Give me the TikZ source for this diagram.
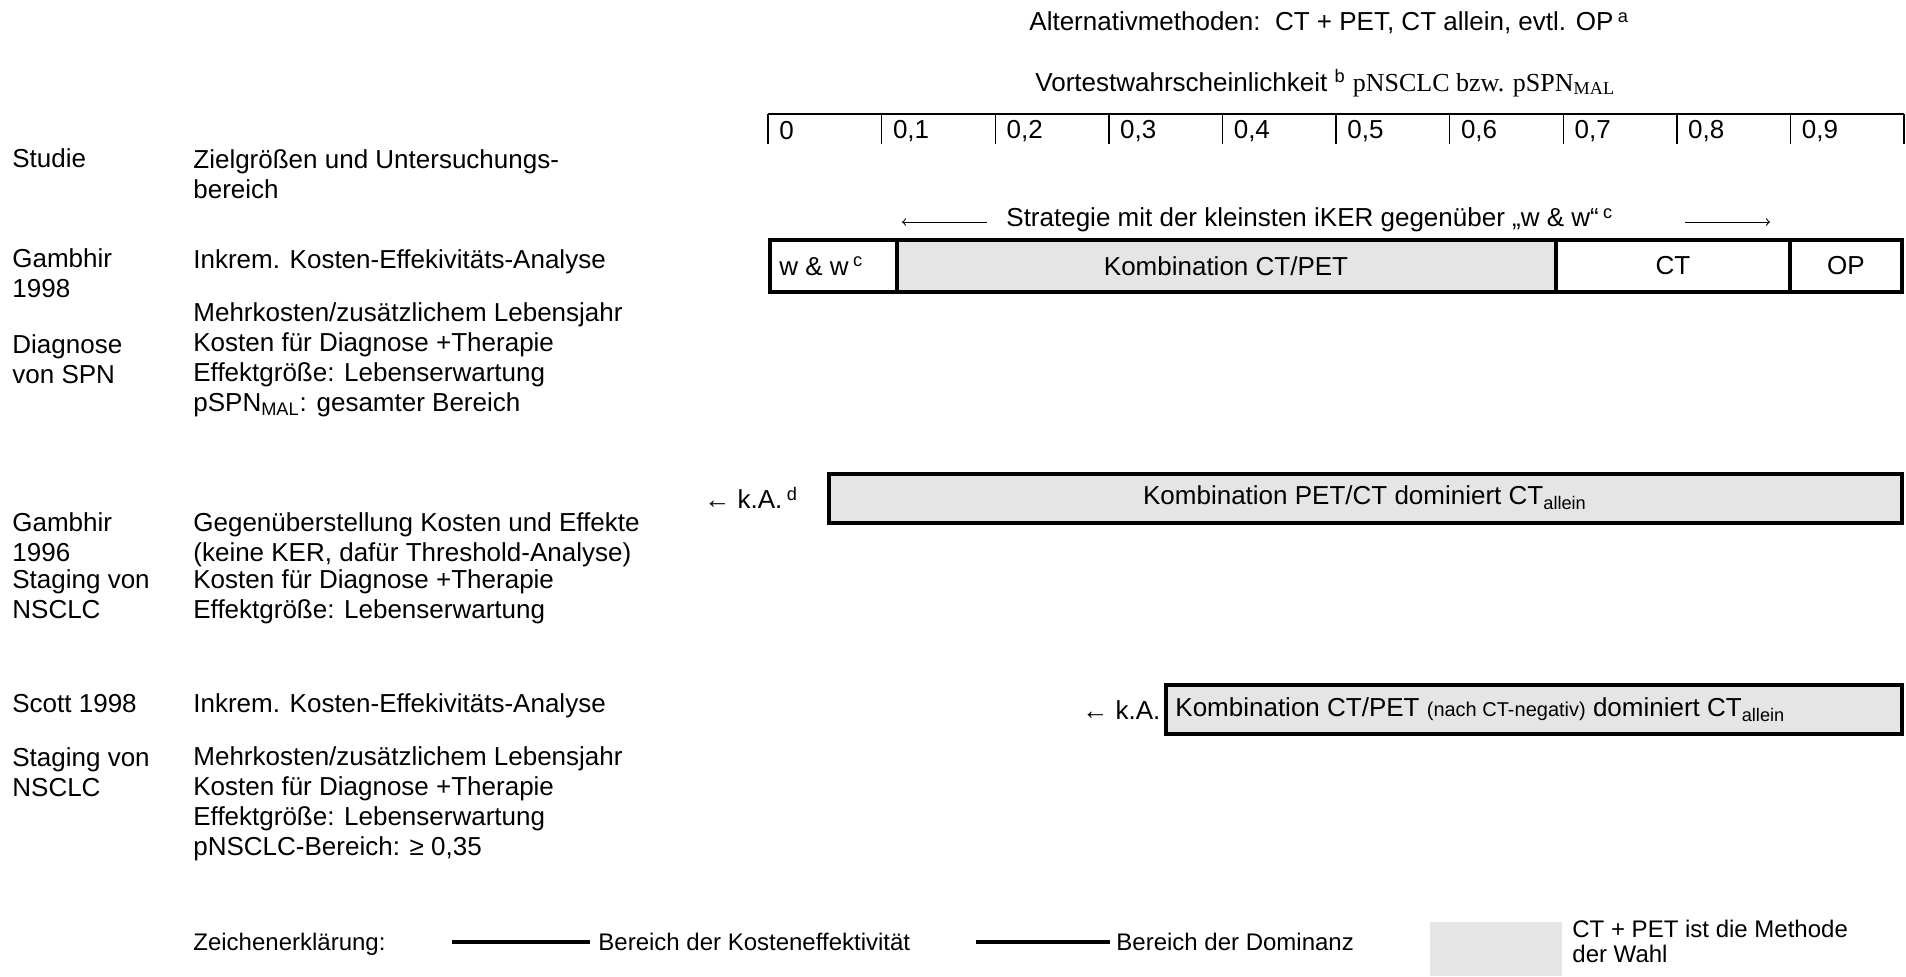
\documentclass[tikz,border=0pt]{standalone}
\usepackage{fontspec}
\setmainfont{Liberation Sans}
\newfontfamily\serifpart{Liberation Serif}
\usepackage{tikz}
\definecolor{kgray}{RGB}{229,229,229}

\begin{document}
\begin{tikzpicture}[x=0.5pt,y=-0.5pt,
  txt/.style={inner sep=0pt,font=\fontsize{13}{15}\selectfont,align=left},
  lgd/.style={inner sep=0pt,font=\fontsize{12}{12.5}\selectfont,align=left},
  ceff/.style={line width=2.3pt},
  cdom/.style={line width=2pt},
  tick/.style={line width=0.7pt}]
\useasboundingbox (0,0) rectangle (1906,976);

% kopf
\node[txt,anchor=west] (alt) at (1029,23) {Alternativmethoden:\ \ CT + PET, CT allein, evtl. OP\,\textsuperscript{a}};
\node[txt,anchor=west] (vtw) at (1035,83) {Vortestwahrscheinlichkeit \textsuperscript{b} {\serifpart pNSCLC bzw. pSPN\textsubscript{MAL}}};

% skala
\draw[tick] (768,114) -- (1904,114);
\foreach \i/\lab in {0/0,1/{0,1},2/{0,2},3/{0,3},4/{0,4},5/{0,5},6/{0,6},7/{0,7},8/{0,8},9/{0,9}}
  \node[txt,anchor=west] (t\i) at (768+113.6*\i+11,131) {\lab};
\foreach \i in {0,...,10}
  \draw[tick] (768+113.6*\i,114) -- ++(0,30);

% strategie
\node[txt,anchor=west] (strat) at (1006,220) {Strategie mit der kleinsten iKER gegenüber „w \& w“\,\textsuperscript{c}};
\coordinate (la) at (902,222);
\coordinate (lb) at (987,222);
\coordinate (ra) at (1685,222);
\coordinate (rb) at (1770,222);
\draw[line width=0.5pt,<-] (la) -- (lb);
\draw[line width=0.5pt,->] (ra) -- (rb);

% zeile 1: Gambhir 1998
\fill[kgray] (897,240) rectangle (1556,292);
\draw[ceff] (770,240) rectangle (1902,292);
\draw[ceff] (897,240) -- (897,292);
\draw[ceff] (1556,240) -- (1556,292);
\draw[ceff] (1790,240) -- (1790,292);
\node[txt,anchor=west] (ww) at (779,266) {w \& w\,\textsuperscript{c}};
\node[txt] (kombi) at (1226,266) {Kombination CT/PET};
\node[txt] (ct) at (1673,266) {CT};
\node[txt] (op) at (1846,266) {OP};

% zeile 2: Gambhir 1996
\node[txt,anchor=west] (ka1) at (704,498) {← k.A.\,\textsuperscript{d}};
\draw[cdom,fill=kgray] (829,474) rectangle (1902,523);
\node[txt] (dom1) at (1365,498) {Kombination PET/CT dominiert CT\textsubscript{allein}};

% zeile 3: Scott 1998
\node[txt,anchor=west] (ka2) at (1082,710) {← k.A.};
\draw[cdom,fill=kgray] (1166,685) rectangle (1902,734);
\node[txt,anchor=west] (dom2) at (1175,710) {Kombination CT/PET {\fontsize{10}{12}\selectfont (nach CT-negativ)} dominiert CT\textsubscript{allein}};

% linke spalten (base = letzte zeile)
\node[txt,anchor=base west] (stud) at (12,167) {Studie};
\node[txt,anchor=base west] (ziel) at (193,198) {Zielgrößen und Untersuchungs-\\bereich};
\node[txt,anchor=base west] (s1) at (12,297) {Gambhir\\1998};
\node[txt,anchor=base west] (a1) at (193,268) {Inkrem. Kosten-Effekivitäts-Analyse};
\node[txt,anchor=base west] (z1) at (193,411) {Mehrkosten/zusätzlichem Lebensjahr\\Kosten für Diagnose +Therapie\\Effektgröße: Lebenserwartung\\pSPN\textsubscript{MAL}: gesamter Bereich};
\node[txt,anchor=base west] (f1) at (12,383) {Diagnose\\von SPN};

\node[txt,anchor=base west] (s2) at (12,561) {Gambhir\\1996};
\node[txt,anchor=base west] (a2) at (193,561) {Gegenüberstellung Kosten und Effekte\\(keine KER, dafür Threshold-Analyse)};
\node[txt,anchor=base west] (f2) at (12,618) {Staging von\\NSCLC};
\node[txt,anchor=base west] (z2) at (193,618) {Kosten für Diagnose +Therapie\\Effektgröße: Lebenserwartung};

\node[txt,anchor=base west] (s3) at (12,712) {Scott 1998};
\node[txt,anchor=base west] (a3) at (193,712) {Inkrem. Kosten-Effekivitäts-Analyse};
\node[txt,anchor=base west] (f3) at (12,796) {Staging von\\NSCLC};
\node[txt,anchor=base west] (z3) at (193,855) {Mehrkosten/zusätzlichem Lebensjahr\\Kosten für Diagnose +Therapie\\Effektgröße: Lebenserwartung\\pNSCLC-Bereich: ≥ 0,35};

% legende
\node[lgd,anchor=base west] (zeich) at (193,950) {Zeichenerklärung:};
\draw[ceff] (452,942) -- (590,942);
\node[lgd,anchor=base west] (leff) at (598,950) {Bereich der Kosteneffektivität};
\draw[cdom] (976,942) -- (1110,942);
\node[lgd,anchor=base west] (ldom) at (1116,950) {Bereich der Dominanz};
\fill[kgray] (1430,922) rectangle (1562,976);
\node[lgd,anchor=base west] (lwahl) at (1572,962) {CT + PET ist die Methode\\der Wahl};
\end{tikzpicture}
\end{document}
